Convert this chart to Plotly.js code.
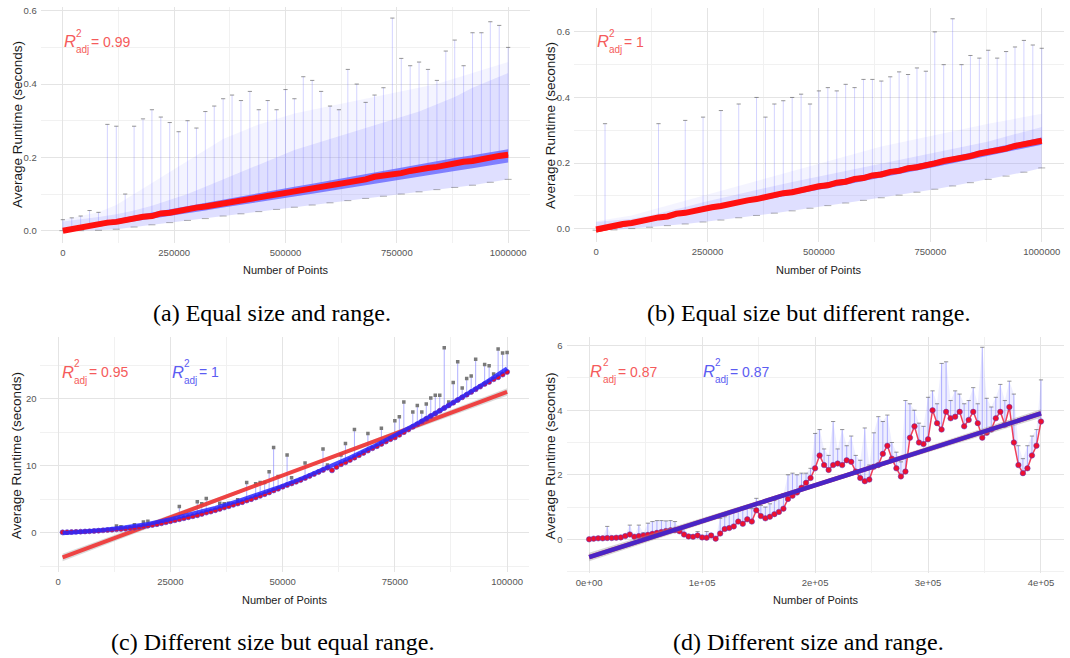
<!DOCTYPE html>
<html><head><meta charset="utf-8">
<script src="https://cdn.plot.ly/plotly-3.0.1.min.js"></script>
<style>html,body{margin:0;padding:0;background:#fff;}#chart{width:1070px;height:658px;}</style>
</head><body><div id="chart"></div>
<script>
// ================= DATA =================
// Panels (a) and (b): 51 sample positions (number of points)
const xGrid = [0,20000,40000,60000,80000,100000,120000,140000,160000,180000,200000,220000,240000,260000,280000,300000,320000,340000,360000,380000,400000,420000,440000,460000,480000,500000,520000,540000,560000,580000,600000,620000,640000,660000,680000,700000,720000,740000,760000,780000,800000,820000,840000,860000,880000,900000,920000,940000,960000,980000,1000000];
const xEnv = [0,40000,80000,120000,160000,200000,240000,280000,320000,360000,400000,440000,480000,520000,560000,600000,640000,680000,720000,760000,800000,840000,880000,920000,960000,1000000];

// (a) Equal size and range
const meanA = [0.000,0.005,0.007,0.013,0.016,0.022,0.024,0.030,0.032,0.038,0.040,0.047,0.049,0.055,0.057,0.063,0.066,0.070,0.076,0.078,0.084,0.086,0.092,0.095,0.101,0.103,0.109,0.111,0.117,0.122,0.124,0.130,0.131,0.138,0.140,0.147,0.149,0.155,0.157,0.163,0.165,0.171,0.174,0.180,0.182,0.188,0.190,0.196,0.198,0.204,0.207];
const spikeA = [0.030,0.035,0.040,0.055,0.050,0.290,0.285,0.100,0.285,0.305,0.330,0.310,0.295,0.270,0.300,0.280,0.325,0.340,0.360,0.370,0.355,0.380,0.330,0.355,0.330,0.385,0.360,0.420,0.410,0.380,0.340,0.330,0.440,0.400,0.350,0.370,0.390,0.580,0.470,0.450,0.460,0.440,0.410,0.490,0.520,0.450,0.540,0.540,0.570,0.560,0.500];
const q1A = [0.000,0.004,0.011,0.018,0.025,0.032,0.040,0.047,0.055,0.063,0.070,0.078,0.086,0.093,0.101,0.109,0.117,0.124,0.132,0.140,0.147,0.155,0.163,0.170,0.178,0.186];
const q3A = [0.006,0.014,0.024,0.032,0.041,0.050,0.059,0.067,0.076,0.085,0.094,0.102,0.111,0.120,0.128,0.137,0.146,0.154,0.163,0.172,0.180,0.189,0.198,0.206,0.215,0.222];
const loA = [0.000,0.000,0.001,0.004,0.010,0.016,0.022,0.028,0.033,0.040,0.046,0.052,0.058,0.064,0.070,0.076,0.082,0.088,0.094,0.100,0.106,0.112,0.118,0.124,0.132,0.140];
const hiA = [0.025,0.030,0.037,0.045,0.055,0.068,0.085,0.100,0.120,0.140,0.160,0.180,0.200,0.220,0.235,0.250,0.265,0.280,0.295,0.310,0.325,0.345,0.365,0.390,0.410,0.430];
const topA = [0.030,0.040,0.050,0.070,0.100,0.130,0.160,0.190,0.220,0.250,0.270,0.290,0.305,0.320,0.330,0.340,0.350,0.360,0.370,0.380,0.390,0.400,0.415,0.430,0.445,0.460];
const lmX_AB = [0,1000000];
const lmA = [-0.001,0.207];

// (b) Equal size but different range
const meanB = [-0.003,0.004,0.007,0.014,0.017,0.024,0.027,0.034,0.037,0.045,0.048,0.055,0.058,0.065,0.069,0.076,0.079,0.086,0.090,0.097,0.100,0.108,0.111,0.118,0.122,0.129,0.132,0.140,0.143,0.151,0.154,0.162,0.165,0.173,0.176,0.184,0.187,0.195,0.199,0.206,0.210,0.218,0.221,0.229,0.233,0.240,0.244,0.252,0.256,0.263,0.268];
const spikeB = [null,0.32,null,null,null,null,null,0.32,null,null,0.33,null,0.34,null,0.36,null,0.38,null,0.40,0.34,0.38,0.39,0.40,0.41,0.38,0.42,0.43,0.42,0.44,0.43,0.455,0.455,0.45,0.463,0.478,0.47,0.49,0.48,0.60,0.50,0.64,0.50,0.528,0.52,0.544,0.52,0.54,0.554,0.574,0.56,0.55];
const q1B = [-0.007,0.003,0.013,0.022,0.032,0.042,0.052,0.062,0.072,0.083,0.093,0.103,0.114,0.124,0.134,0.145,0.155,0.166,0.177,0.188,0.199,0.210,0.222,0.233,0.245,0.256];
const q3B = [0.002,0.012,0.022,0.032,0.043,0.054,0.064,0.075,0.086,0.097,0.107,0.118,0.129,0.140,0.151,0.162,0.173,0.184,0.196,0.208,0.219,0.231,0.243,0.254,0.266,0.278];
const loB = [-0.005,-0.004,0.000,0.004,0.009,0.014,0.020,0.026,0.033,0.040,0.047,0.054,0.062,0.070,0.078,0.086,0.094,0.102,0.111,0.120,0.130,0.140,0.150,0.160,0.172,0.185];
const hiB = [0.020,0.024,0.030,0.040,0.052,0.066,0.080,0.093,0.106,0.118,0.130,0.142,0.153,0.164,0.175,0.186,0.197,0.208,0.219,0.230,0.242,0.254,0.266,0.280,0.295,0.310];
const topB = [0.022,0.030,0.040,0.055,0.070,0.085,0.100,0.115,0.130,0.145,0.160,0.175,0.190,0.205,0.220,0.235,0.250,0.262,0.274,0.286,0.298,0.310,0.320,0.330,0.340,0.350];
const lmB = [-0.008,0.270];

// (c) Different size but equal range
const xC = [1000,2000,3000,4000,5000,6000,7000,8000,9000,10000,11000,12000,13000,14000,15000,16000,17000,18000,19000,20000,21000,22000,23000,24000,25000,26000,27000,28000,29000,30000,31000,32000,33000,34000,35000,36000,37000,38000,39000,40000,41000,42000,43000,44000,45000,46000,47000,48000,49000,50000,51000,52000,53000,54000,55000,56000,57000,58000,59000,60000,61000,62000,63000,64000,65000,66000,67000,68000,69000,70000,71000,72000,73000,74000,75000,76000,77000,78000,79000,80000,81000,82000,83000,84000,85000,86000,87000,88000,89000,90000,91000,92000,93000,94000,95000,96000,97000,98000,99000,100000];
const meanC = [0.05,0.08,0.10,0.12,0.15,0.18,0.21,0.25,0.30,0.35,0.40,0.45,0.50,0.55,0.60,0.68,0.75,0.85,0.95,1.05,1.15,1.27,1.40,1.55,1.70,1.85,2.00,2.15,2.30,2.45,2.60,2.80,3.00,3.15,3.35,3.55,3.75,3.95,4.15,4.35,4.55,4.80,5.00,5.25,5.50,5.75,6.00,6.30,6.55,6.85,7.10,7.35,7.60,7.85,8.15,8.45,8.75,9.05,9.35,9.70,9.30,9.80,10.20,10.50,10.85,11.20,11.55,11.90,12.25,12.60,12.90,13.25,13.60,13.95,14.20,14.60,15.00,15.40,15.80,16.20,16.60,17.00,17.40,17.80,18.20,18.60,19.00,19.40,19.80,20.20,20.60,21.00,21.40,21.80,22.20,22.50,22.90,23.20,23.60,24.00];
const fitXC = [1000,5000,10000,15000,20000,25000,30000,35000,40000,45000,50000,55000,60000,65000,70000,75000,80000,85000,90000,95000,100000];
const fitC = [-0.1,0.1,0.4,0.8,1.3,2.0,2.8,3.7,4.7,5.8,7.0,8.3,9.7,11.2,12.8,14.5,16.3,18.2,20.2,22.3,24.5];
const lmXC = [1000,100000];
const lmC = [-3.7,21.0];
const ciXC = [1000,50500,100000];
const ciLoC = [-4.25,8.45,20.45];
const ciHiC = [-3.15,8.85,21.55];
const outXC = [13000,14000,17000,19000,20000,27000,31000,32000,33000,36000,37000,38000,40000,42000,44000,45000,46000,47000,48000,49000,51000,52000,55000,59000,60000,63000,64000,66000,69000,72000,75000,76000,77000,79000,80000,81000,82000,83000,84000,85000,86000,87000,88000,89000,90000,91000,92000,93000,95000,96000,97000,98000,99000,100000];
const outYC = [1.0,0.9,1.2,1.6,1.7,3.9,4.6,4.3,5.1,4.4,4.3,4.4,4.9,7.5,7.3,7.5,7.5,9.1,12.7,8.4,11.6,8.2,10.4,12.5,10.1,11.6,13.3,15.4,14.8,15.6,16.7,17.3,19.5,18.0,19.0,18.0,19.2,20.1,20.5,20.5,27.6,19.5,22.4,25.5,21.6,23.0,23.4,25.9,25.1,24.9,23.7,27.4,26.8,26.9];

// (d) Different size and range
const xD = [0,4000,8000,12000,16000,20000,24000,28000,32000,36000,40000,44000,48000,52000,56000,60000,64000,68000,72000,76000,80000,84000,88000,92000,96000,100000,104000,108000,112000,116000,120000,124000,128000,132000,136000,140000,144000,148000,152000,156000,160000,164000,168000,172000,176000,180000,184000,188000,192000,196000,200000,204000,208000,212000,216000,220000,224000,228000,232000,236000,240000,244000,248000,252000,256000,260000,264000,268000,272000,276000,280000,284000,288000,292000,296000,300000,304000,308000,312000,316000,320000,324000,328000,332000,336000,340000,344000,348000,352000,356000,360000,364000,368000,372000,376000,380000,384000,388000,392000,396000,400000];
const meanD = [0.00,0.02,0.03,0.03,0.04,0.04,0.05,0.06,0.10,0.15,0.08,0.10,0.12,0.14,0.17,0.20,0.23,0.26,0.28,0.28,0.25,0.15,0.09,0.08,0.12,0.06,0.05,0.12,0.02,0.18,0.32,0.35,0.40,0.55,0.48,0.62,0.55,0.90,0.72,0.65,0.70,0.78,0.85,0.95,1.25,1.35,1.45,1.60,1.75,1.90,2.20,2.60,2.30,2.15,2.30,2.35,2.30,2.45,2.40,2.10,1.90,1.80,1.85,2.25,2.30,2.65,2.90,2.50,2.20,1.95,2.10,3.15,3.50,3.00,2.95,3.10,4.00,3.60,3.40,3.95,3.75,3.80,3.95,3.50,3.70,3.95,3.60,3.15,3.30,3.40,3.75,3.95,3.55,4.10,3.00,2.30,2.05,2.20,2.60,2.90,3.65];
const topD = [0.05,0.06,0.07,0.07,0.40,0.08,0.09,0.10,0.15,0.44,0.12,0.44,0.20,0.50,0.55,0.58,0.58,0.57,0.58,0.55,0.32,0.34,0.15,0.12,0.24,0.10,0.24,0.18,0.06,0.65,0.70,0.80,0.88,0.95,1.00,1.00,0.95,1.27,1.05,1.00,1.10,1.20,1.30,1.40,2.00,2.05,2.00,2.05,2.05,2.20,3.28,3.40,2.80,2.60,3.65,2.80,3.40,2.90,3.20,2.60,2.45,3.45,2.30,3.30,3.80,3.65,3.85,3.00,2.70,2.40,4.30,4.20,4.00,3.60,3.50,4.40,4.60,4.20,5.45,5.50,4.30,4.60,4.50,4.20,4.30,4.70,4.20,5.95,4.37,4.10,4.40,4.80,4.30,4.90,4.50,2.90,2.50,2.90,3.20,3.40,4.94];
const lmXD = [0,400000];
const lmD = [-0.55,3.90];
const ciXD = [0,200000,400000];
const ciLoD = [-0.68,1.62,3.77];
const ciHiD = [-0.42,1.74,4.03];

// Tick values / labels
const tickXAB = [0,250000,500000,750000,1000000];
const tickXABtext = ['0','250000','500000','750000','1000000'];
const minorXAB = [125000,375000,625000,875000];
const tickYAB = [0,0.2,0.4,0.6];
const tickYABtext = ['0.0','0.2','0.4','0.6'];
const minorYAB = [0.1,0.3,0.5];
const tickXC = [0,25000,50000,75000,100000];
const tickXCtext = ['0','25000','50000','75000','100000'];
const minorXC = [12500,37500,62500,87500];
const tickYC = [0,10,20];
const tickYCtext = ['0','10','20'];
const minorYC = [-5,5,15,25];
const tickXD = [0,100000,200000,300000,400000];
const tickXDtext = ['0e+00','1e+05','2e+05','3e+05','4e+05'];
const minorXD = [50000,150000,250000,350000];
const tickYD = [0,2,4,6];
const tickYDtext = ['0','2','4','6'];
const minorYD = [-1,1,3,5];

const r2Labels = [
  {panel:'a', text:'= 0.99', color:'red'},
  {panel:'b', text:'= 1', color:'red'},
  {panel:'c', text:'= 0.95', color:'red'},
  {panel:'c', text:'= 1', color:'blue'},
  {panel:'d', text:'= 0.87', color:'red'},
  {panel:'d', text:'= 0.87', color:'blue'}
];
const captions = ['(a) Equal size and range.','(b) Equal size but different range.','(c) Different size but equal range.','(d) Different size and range.'];
const xTitle = 'Number of Points';
const yTitle = 'Average Runtime (seconds)';

// ================= STYLE / BUILD =================
const W = 1070, H = 658;
const FN = "'Liberation Sans',Arial,sans-serif";
const FSERIF = "'Liberation Serif','Times New Roman',serif";
const RED_T = '#f55b5b', BLUE_T = '#5c5cf2';
const P = px => px / W, Q = py => 1 - py / H;

const traces = [];
function band(x, lo, hi, color, xa, ya) {
  traces.push({x, y: lo, mode:'lines', line:{width:0, color:'rgba(0,0,0,0)'}, xaxis:xa, yaxis:ya, hoverinfo:'skip'});
  traces.push({x, y: hi, mode:'lines', line:{width:0, color:'rgba(0,0,0,0)'}, fill:'tonexty', fillcolor:color, xaxis:xa, yaxis:ya, hoverinfo:'skip'});
}
function whiskers(x, base, top, color, thick, xa, ya) {
  traces.push({x, y: base, mode:'markers', marker:{size:1, color:'rgba(0,0,0,0)'},
    error_y:{type:'data', symmetric:false, array: top.map((t,i)=> t==null ? 0 : t - base[i]), arrayminus: base.map(()=>0), color, thickness:thick, width:0},
    xaxis:xa, yaxis:ya, hoverinfo:'skip'});
}
function dashes(x, y, xa, ya, size, color) {
  traces.push({x, y, mode:'markers', marker:{symbol:'line-ew', size:size||3, line:{color:color||'rgba(80,80,80,0.6)', width:1}}, xaxis:xa, yaxis:ya, hoverinfo:'skip'});
}
function line(x, y, color, width, xa, ya) {
  traces.push({x, y, mode:'lines', line:{color, width}, xaxis:xa, yaxis:ya, hoverinfo:'skip'});
}

// ---- (a) and (b)
function boxPanel(mean, spike, q1, q3, lo, hi, top, lm, xa, ya) {
  band(xEnv, hi, top, 'rgba(150,150,255,0.10)', xa, ya);
  band(xEnv, lo, hi, 'rgba(150,150,255,0.30)', xa, ya);
  whiskers(xGrid, mean, spike, 'rgba(120,120,255,0.40)', 0.8, xa, ya);
  dashes(xGrid.filter((_,i)=>spike[i]!=null), spike.filter(v=>v!=null), xa, ya, 3);
  dashes(xEnv, lo, xa, ya, 5, 'rgba(80,80,80,0.45)');
  band(xEnv, q1, q3, 'rgba(95,95,255,0.75)', xa, ya);
  line(lmX_AB, lm, '#ff2020', 2.5, xa, ya);
  line(xGrid, mean, '#ff1010', 6, xa, ya);
}
boxPanel(meanA, spikeA, q1A, q3A, loA, hiA, topA, lmA, 'x', 'y');
boxPanel(meanB, spikeB, q1B, q3B, loB, hiB, topB, lmB, 'x2', 'y2');

// ---- (c)
const baseC = outXC.map(x => meanC[xC.indexOf(x)]);
whiskers(outXC, baseC, outYC, 'rgba(110,110,255,0.55)', 1, 'x3', 'y3');
traces.push({x: outXC, y: outYC, mode:'markers', marker:{symbol:'square', size:3.5, color:'#7a7a7a'}, xaxis:'x3', yaxis:'y3', hoverinfo:'skip'});
band(ciXC, ciLoC, ciHiC, 'rgba(150,150,150,0.35)', 'x3', 'y3');
line(lmXC, lmC, 'rgba(240,50,50,0.9)', 4, 'x3', 'y3');
traces.push({x: xC, y: meanC, mode:'markers', marker:{size:5, color:'#e8102a', line:{color:'rgba(70,60,230,0.8)', width:0.8}}, xaxis:'x3', yaxis:'y3', hoverinfo:'skip'});
line(fitXC, fitC, 'rgba(40,40,255,0.85)', 4, 'x3', 'y3');

// ---- (d)
band(xD, meanD, topD, 'rgba(150,150,255,0.16)', 'x4', 'y4');
whiskers(xD, meanD, topD, 'rgba(110,110,255,0.5)', 1, 'x4', 'y4');
dashes(xD, topD, 'x4', 'y4', 3);
traces.push({x: xD, y: meanD, mode:'lines+markers', line:{color:'rgba(238,16,48,0.8)', width:1.5}, marker:{size:5.5, color:'#ee1030', line:{color:'rgba(80,60,200,0.7)', width:0.7}}, xaxis:'x4', yaxis:'y4', hoverinfo:'skip'});
band(ciXD, ciLoD, ciHiD, 'rgba(150,150,150,0.4)', 'x4', 'y4');
line(lmXD, lmD, '#e83030', 4.5, 'x4', 'y4');
line(lmXD, lmD, 'rgba(45,35,225,0.85)', 4.5, 'x4', 'y4');

// ---- axes
function axis(domain, range, tv, tt, minor, anchor) {
  return {domain, range, anchor, tickmode:'array', tickvals:tv, ticktext:tt,
    showgrid:true, gridcolor:'#e4e4e4', gridwidth:1, zeroline:false, showline:false,
    ticks:'outside', ticklen:1, tickcolor:'rgba(0,0,0,0)',
    tickfont:{family:FN, size:9.5, color:'#555555'},
    minor:{tickmode:'array', tickvals:minor, showgrid:true, gridcolor:'#f1f1f1', gridwidth:1, ticks:''},
    fixedrange:true};
}

// ---- annotations
const ann = [];
function txt(text, x, y, opt) {
  ann.push(Object.assign({text, x:P(x), y:Q(y), xref:'paper', yref:'paper', showarrow:false, xanchor:'left', yanchor:'middle', borderpad:0}, opt));
}
const r2Pos = {a:[[63,41.5]], b:[[596,41.5]], c:[[61,371.5],[170.5,371.5]], d:[[589.5,371],[701.5,371]]};
const used = {a:0,b:0,c:0,d:0};
r2Labels.forEach(l => {
  const [x0, yc] = r2Pos[l.panel][used[l.panel]++];
  const col = l.color === 'red' ? RED_T : BLUE_T;
  txt('<i>R</i>', x0, yc, {font:{family:FN, size:16.5, color:col}});
  txt('2', x0 + 12, yc - 8.5, {font:{family:FN, size:10, color:col}});
  txt('adj', x0 + 12, yc + 8.5, {font:{family:FN, size:10, color:col}});
  txt(l.text, x0 + 27, yc + 0.5, {font:{family:FN, size:14, color:col}});
});
// axis titles
[[285.5,270],[818.6,270],[284.7,600],[815,600]].forEach(([x,y]) =>
  txt(xTitle, x, y, {xanchor:'center', font:{family:FN, size:11, color:'#1a1a1a'}}));
[[17,125],[550,125],[16.2,456],[549.6,456]].forEach(([x,y]) =>
  txt(yTitle, x, y, {xanchor:'center', textangle:-90, font:{family:FN, size:13.5, color:'#1a1a1a'}}));
// captions
[[272,313],[808,313],[272,642],[808,642]].forEach(([x,y],i) =>
  txt(captions[i], x, y, {xanchor:'center', font:{family:FSERIF, size:24, color:'#000'}}));

const layout = {
  width:W, height:H, margin:{l:0,r:0,t:0,b:0}, showlegend:false,
  paper_bgcolor:'#fff', plot_bgcolor:'#fff', font:{family:FN},
  xaxis:  axis([0.03794,0.4957],[-50000,1050000], tickXAB, tickXABtext, minorXAB, 'y'),
  yaxis:  axis([0.6312,0.9898],[-0.0327,0.611], tickYAB, tickYABtext, minorYAB, 'x'),
  xaxis2: axis([0.5363,0.9944],[-50000,1050000], tickXAB, tickXABtext, minorXAB, 'y2'),
  yaxis2: axis([0.6327,0.9874],[-0.04,0.672], tickYAB, tickYABtext, minorYAB, 'x2'),
  xaxis3: axis([0.03772,0.4947],[-3950,104950], tickXC, tickXCtext, minorXC, 'y3'),
  yaxis3: axis([0.1312,0.4883],[-5.82,29.25], tickYC, tickYCtext, minorYC, 'x3'),
  xaxis4: axis([0.5295,0.994],[-20000,420000], tickXD, tickXDtext, minorXD, 'y4'),
  yaxis4: axis([0.1296,0.4874],[-1.035,6.26], tickYD, tickYDtext, minorYD, 'x4'),
  annotations: ann
};
Plotly.newPlot('chart', traces, layout, {staticPlot:true, displayModeBar:false});
</script></body></html>
